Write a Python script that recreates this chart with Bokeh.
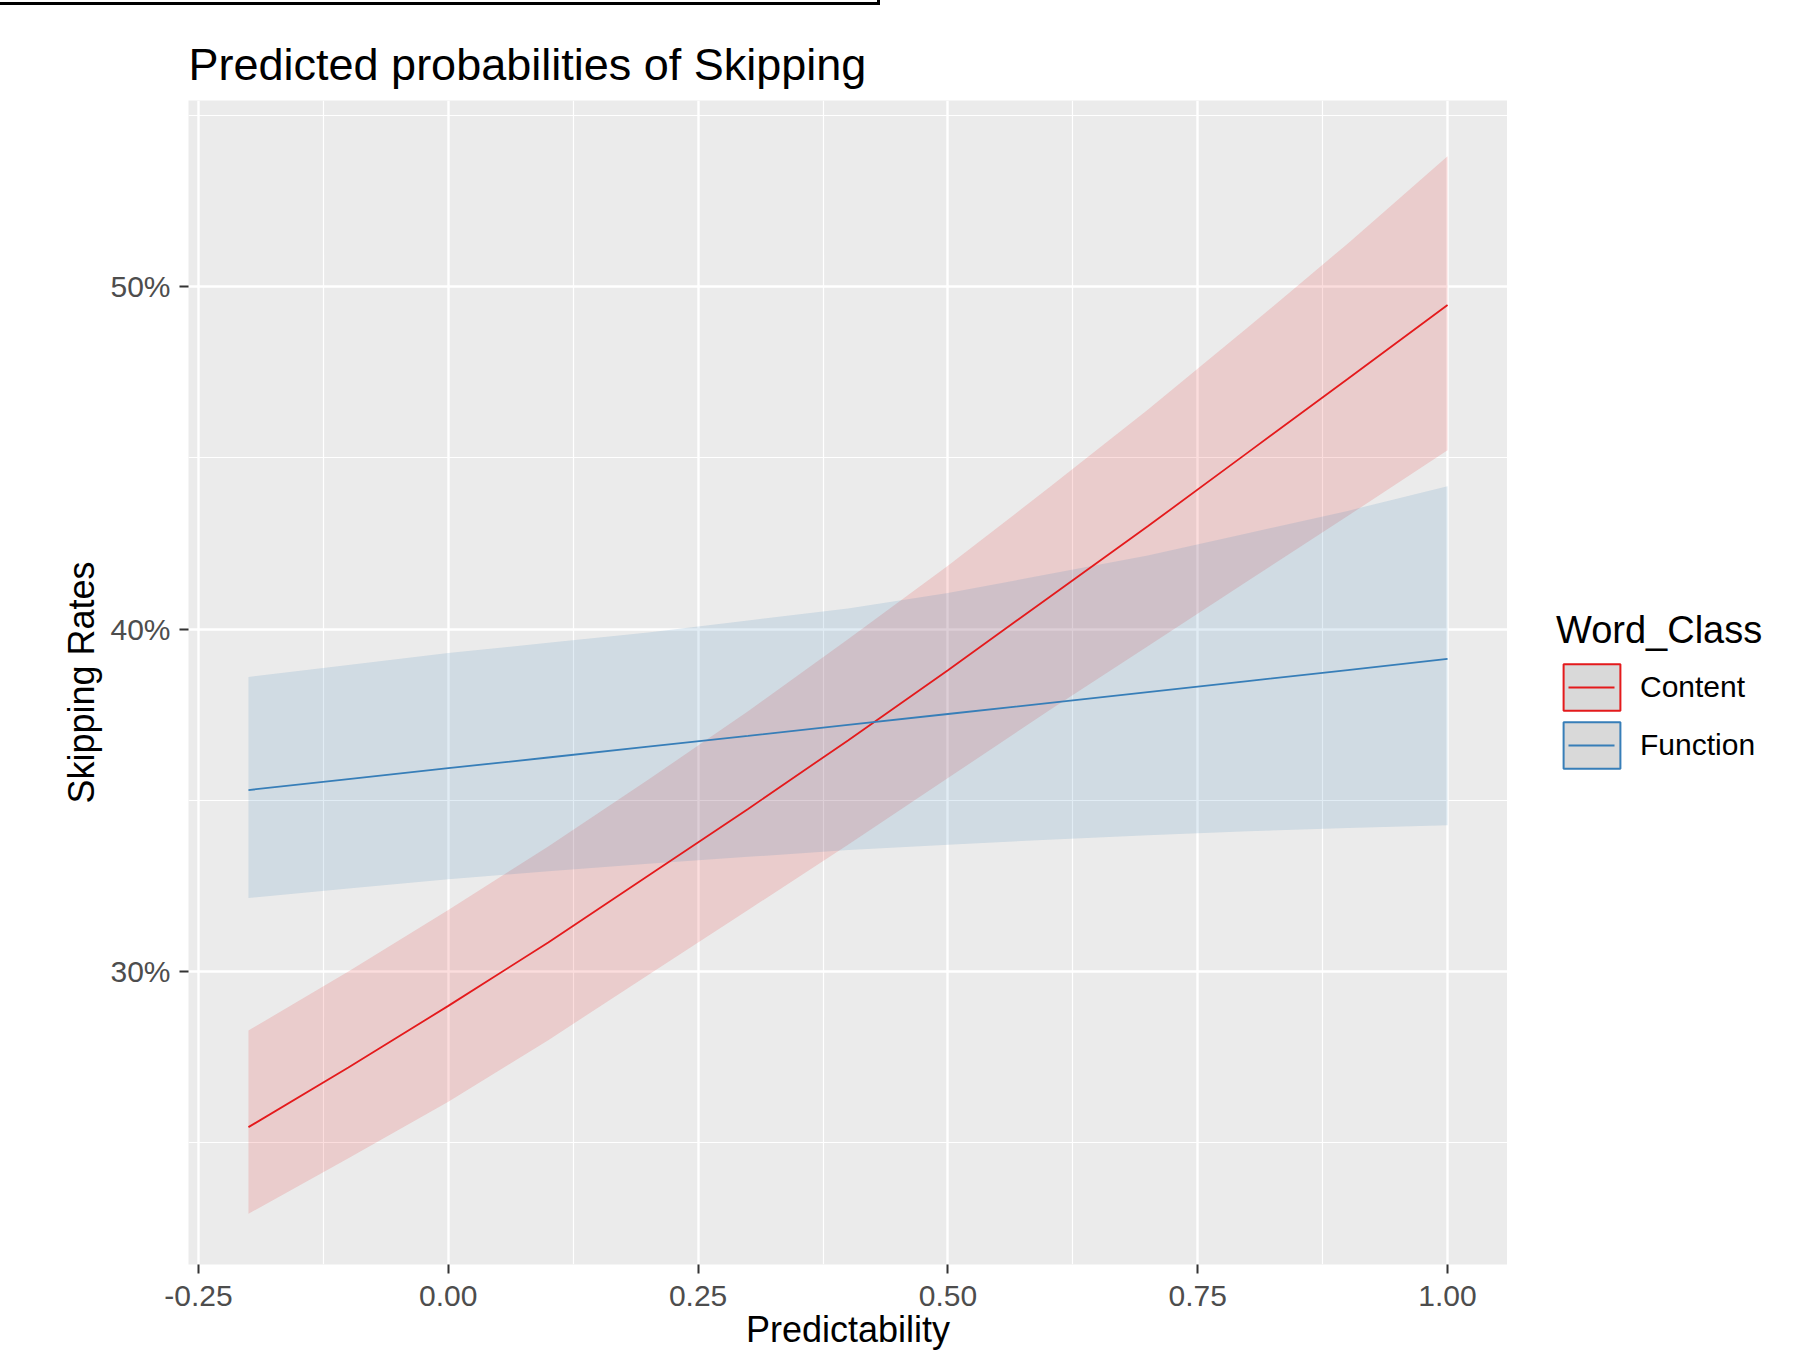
import numpy as np
from bokeh.plotting import figure
from bokeh.models import (FixedTicker, NumeralTickFormatter, PrintfTickFormatter,
                          Range1d, Legend, LegendItem, Div)
from bokeh.layouts import column, row
from bokeh.embed import file_html
from bokeh.resources import INLINE

# ---- data ----
predictability = [-0.2, -0.1, 0.0, 0.1, 0.2, 0.3, 0.4, 0.5, 0.6, 0.7, 0.8, 0.9, 1.0]
content_pred = [25.46, 27.2, 29.0, 30.85, 32.8, 34.75, 36.75, 38.8, 40.9, 43.0, 45.15, 47.3, 49.46]
content_low = [22.93, 24.55, 26.2, 28.0, 29.9, 31.8, 33.7, 35.65, 37.6, 39.5, 41.4, 43.3, 45.22]
content_high = [28.28, 30.0, 31.8, 33.65, 35.6, 37.6, 39.7, 41.85, 44.1, 46.4, 48.8, 51.25, 53.8]
function_pred = [35.3, 35.62, 35.94, 36.25, 36.57, 36.88, 37.2, 37.52, 37.84, 38.16, 38.48, 38.8, 39.13]
function_low = [32.15, 32.43, 32.7, 32.93, 33.15, 33.35, 33.55, 33.7, 33.85, 33.98, 34.1, 34.19, 34.27]
function_high = [38.6, 38.95, 39.3, 39.6, 39.9, 40.25, 40.6, 41.05, 41.6, 42.15, 42.8, 43.45, 44.17]

x_ticks = [-0.25, 0.0, 0.25, 0.5, 0.75, 1.0]
x_minor = [-0.125, 0.125, 0.375, 0.625, 0.875]
y_ticks = [30, 40, 50]
y_minor = [25, 35, 45, 55]

title_text = "Predicted probabilities of Skipping"
x_title = "Predictability"
y_title = "Skipping Rates"
legend_title = "Word_Class"
groups = ["Content", "Function"]
RED = "#E41A1C"
BLUE = "#377EB8"
FONT = "Liberation Sans"

X0, X1 = -0.26, 1.06
Y0, Y1 = 21.45, 55.43
H = 1347

p = figure(width=1507, height=H, x_range=Range1d(X0, X1), y_range=Range1d(Y0, Y1),
           output_backend="svg", toolbar_location=None,
           min_border_left=188, min_border_right=0, min_border_top=95, min_border_bottom=0,
           background_fill_color="#EBEBEB", border_fill_color="white",
           outline_line_color=None)

# title
p.title.text = title_text
p.title.align = "left"
p.title.text_font = FONT
p.title.text_font_size = "45px"
p.title.text_font_style = "normal"
p.title.text_color = "black"
p.title.standoff = 22

xt = FixedTicker(ticks=x_ticks, minor_ticks=x_minor)
yt = FixedTicker(ticks=y_ticks, minor_ticks=y_minor)
p.xaxis.ticker = xt
p.yaxis.ticker = yt
p.xgrid.ticker = xt
p.ygrid.ticker = yt
for g in (p.xgrid, p.ygrid):
    g.grid_line_color = "white"
    g.grid_line_width = 2.4
    g.minor_grid_line_color = "white"
    g.minor_grid_line_width = 1.2

p.xaxis.formatter = NumeralTickFormatter(format="0.00")
p.yaxis.formatter = PrintfTickFormatter(format="%d%%")
for ax in (p.xaxis, p.yaxis):
    ax.axis_line_color = None
    ax.major_tick_line_color = "#333333"
    ax.major_tick_line_width = 2
    ax.major_tick_out = 9
    ax.major_tick_in = 0
    ax.minor_tick_line_color = None
    ax.major_label_text_font = FONT
    ax.major_label_text_font_size = "30px"
    ax.major_label_text_color = "#4D4D4D"
    ax.axis_label_text_font = FONT
    ax.axis_label_text_font_size = "36px"
    ax.axis_label_text_font_style = "normal"
    ax.axis_label_text_color = "black"
p.xaxis.major_label_standoff = 12
p.yaxis.major_label_standoff = 9
p.xaxis.axis_label = x_title
p.xaxis.axis_label_standoff = 0
p.yaxis.axis_label = y_title
p.yaxis.axis_label_standoff = 5

# ribbons
p.varea(x=predictability, y1=content_low, y2=content_high, fill_color=RED, fill_alpha=0.15)
p.varea(x=predictability, y1=function_low, y2=function_high, fill_color=BLUE, fill_alpha=0.15)
# lines
p.line(x=predictability, y=content_pred, line_color=RED, line_width=1.8)
p.line(x=predictability, y=function_pred, line_color=BLUE, line_width=1.8)

# ---- legend panel (separate figure to the right) ----
pl = figure(width=1805 - 1507, height=H, x_range=Range1d(0, 1), y_range=Range1d(0, 1),
            output_backend="svg", toolbar_location=None,
            x_axis_location=None, y_axis_location=None,
            min_border=0, outline_line_color=None,
            background_fill_color="white", border_fill_color="white")
pl.grid.visible = False

nan = np.array([np.nan])
items = []
for grp, col in zip(groups, [RED, BLUE]):
    box = pl.quad(left=nan, right=nan, top=nan, bottom=nan, fill_color="#D9D9D9",
                  line_color=col, line_width=2)
    ln = pl.line(x=nan, y=nan, line_color=col, line_width=2, line_dash="0 12 46 13")
    items.append(LegendItem(label=grp, renderers=[box, ln]))

legend = Legend(items=items, title=legend_title, location=(49, 490),
                glyph_width=71, glyph_height=58, spacing=0, label_standoff=13,
                padding=0, margin=0, border_line_color=None, background_fill_alpha=0,
                title_standoff=6, label_text_font=FONT, label_text_font_size="30px",
                label_text_color="black",
                title_text_font=FONT, title_text_font_size="38px",
                title_text_font_style="normal", title_text_color="black")
pl.add_layout(legend)

# black frame edge at the top-left of the screenshot
top_edge = Div(width=880, height=5, margin=0,
               styles={"border-bottom": "3px solid black", "border-right": "3px solid black",
                       "box-sizing": "border-box"})

layout = column(top_edge, row(p, pl, spacing=0), spacing=0)
open("out.html", "w").write(file_html(layout, INLINE))
